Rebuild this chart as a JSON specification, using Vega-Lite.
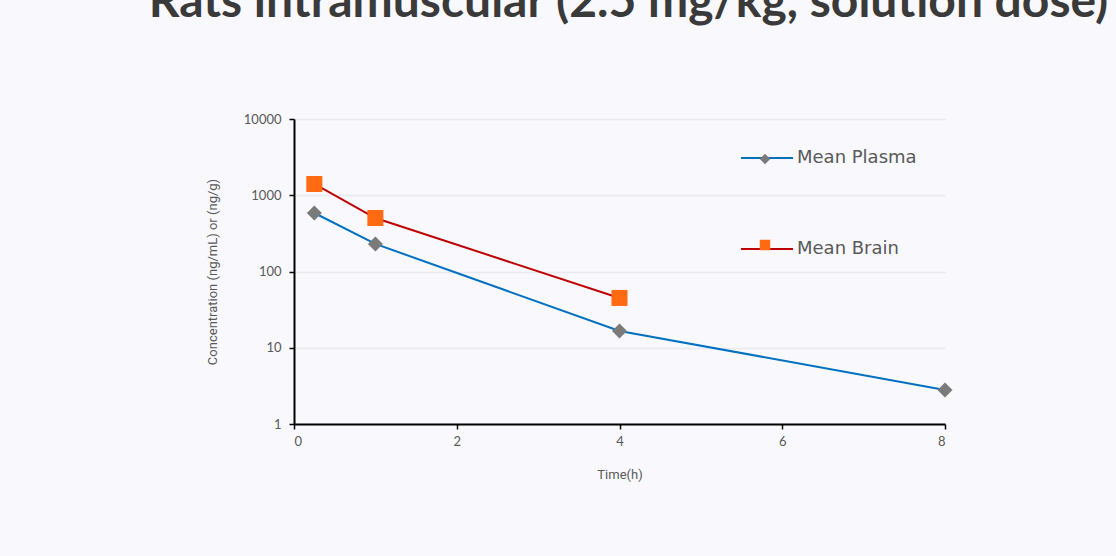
{
  "$schema": "https://vega.github.io/schema/vega-lite/v6.json",
  "autosize": "none",
  "width": 651,
  "height": 305,
  "padding": {"left": 294, "top": 119, "right": 171, "bottom": 132},
  "background": "#f8f8fd",
  "title": {
    "text": "Rats intramuscular (2.5 mg/kg, solution dose)",
    "font": "Lato",
    "fontSize": 48,
    "fontWeight": "bold",
    "color": "#3a3a3a",
    "baseline": "alphabetic",
    "anchor": "middle",
    "offset": 48,
    "dx": 9
  },
  "config": {
    "view": {"stroke": null},
    "axis": {
      "domainColor": "#000000",
      "domainWidth": 2,
      "tickColor": "#000000",
      "tickWidth": 1.5,
      "tickSize": 5,
      "labelColor": "#595959",
      "labelFont": "Lato",
      "labelFontSize": 13,
      "titleColor": "#595959",
      "titleFont": "Roboto",
      "titleFontSize": 13,
      "titleFontWeight": "normal"
    }
  },
  "data": {
    "values": [
      {"series": "Mean Plasma", "time": 0.25, "conc": 585},
      {"series": "Mean Plasma", "time": 1, "conc": 230},
      {"series": "Mean Plasma", "time": 4, "conc": 16.6},
      {"series": "Mean Plasma", "time": 8, "conc": 2.8},
      {"series": "Mean Brain", "time": 0.25, "conc": 1405},
      {"series": "Mean Brain", "time": 1, "conc": 503},
      {"series": "Mean Brain", "time": 4, "conc": 45}
    ]
  },
  "transform": [{"calculate": "datum.series", "as": "marker"}],
  "encoding": {
    "x": {
      "field": "time",
      "type": "quantitative",
      "title": "Time(h)",
      "scale": {"domain": [0, 8], "nice": false},
      "axis": {"values": [0, 2, 4, 6, 8], "grid": false, "labelPadding": 6, "titlePadding": 20}
    },
    "y": {
      "field": "conc",
      "type": "quantitative",
      "title": "Concentration (ng/mL) or (ng/g)",
      "scale": {"type": "log", "domain": [1, 10000], "nice": false},
      "axis": {
        "values": [1, 10, 100, 1000, 10000],
        "format": "d",
        "grid": true,
        "gridColor": "#e9e9f0",
        "gridWidth": 1.5,
        "labelPadding": 8,
        "titlePadding": 24
      }
    }
  },
  "layer": [
    {
      "mark": {"type": "line", "strokeWidth": 2},
      "encoding": {
        "stroke": {
          "field": "series",
          "type": "nominal",
          "scale": {"domain": ["Mean Plasma", "Mean Brain"], "range": ["#0070c0", "#c00000"]},
          "legend": {
            "title": null,
            "orient": "none",
            "legendX": 446,
            "legendY": 12,
            "symbolType": "stroke",
            "symbolSize": 2704,
            "symbolStrokeWidth": 2,
            "rowPadding": 55,
            "labelFont": "DejaVu Sans",
            "labelFontSize": 18,
            "labelColor": "#595959",
            "labelOffset": 3
          }
        }
      }
    },
    {
      "mark": {"type": "point", "filled": true, "opacity": 1},
      "encoding": {
        "shape": {
          "field": "marker",
          "type": "nominal",
          "sort": ["Mean Plasma", "Mean Brain"],
          "scale": {"range": ["diamond", "square"]},
          "legend": {
            "title": null,
            "orient": "none",
            "legendX": 463,
            "legendY": 32,
            "symbolSize": 110,
            "symbolOpacity": 1,
            "symbolStrokeWidth": 0,
            "symbolFillColor": {"expr": "datum.value == 'Mean Plasma' ? '#7a7a7a' : '#ff6a13'"},
            "rowPadding": 70,
            "labelFont": "DejaVu Sans",
            "labelFontSize": 16,
            "labelOpacity": 0
          }
        },
        "fill": {
          "field": "marker",
          "type": "nominal",
          "sort": ["Mean Plasma", "Mean Brain"],
          "scale": {"range": ["#7a7a7a", "#ff6a13"]},
          "legend": null
        },
        "size": {
          "field": "marker",
          "type": "nominal",
          "sort": ["Mean Plasma", "Mean Brain"],
          "scale": {"range": [225, 256]},
          "legend": null
        }
      }
    }
  ]
}
